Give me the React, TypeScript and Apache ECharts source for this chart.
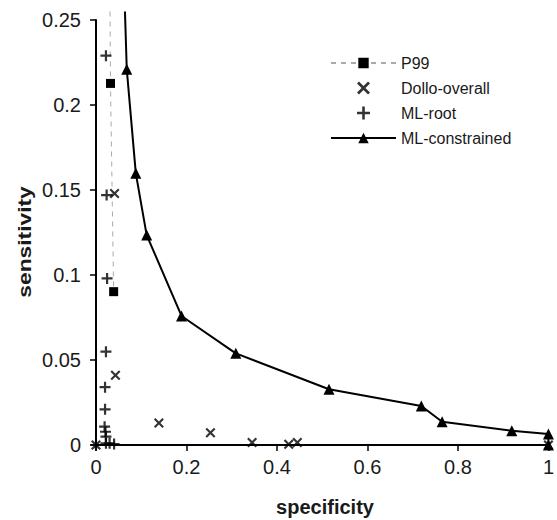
import React, { useEffect, useRef } from "react";
import * as echarts from "echarts";

const FONT = "'Liberation Sans', Arial, sans-serif";

const seriesNames = ["P99", "Dollo-overall", "ML-root", "ML-constrained"];

// [specificity, sensitivity]
const p99Top: [number, number] = [0.031, 0.255];
const p99: [number, number][] = [
  [0.032, 0.2127],
  [0.039, 0.0902],
];

const dollo: [number, number][] = [
  [0, 0],
  [0.041, 0.148],
  [0.043, 0.041],
  [0.139, 0.0129],
  [0.253, 0.0072],
  [0.345, 0.0014],
  [0.426, 0.0004],
  [0.445, 0.0014],
  [1, 0],
];

const mlRoot: [number, number][] = [
  [0, 0],
  [0.022, 0.229],
  [0.0235, 0.147],
  [0.0245, 0.098],
  [0.022, 0.0549],
  [0.02, 0.034],
  [0.02, 0.021],
  [0.019, 0.0108],
  [0.021, 0.0078],
  [0.022, 0.0049],
  [0.022, 0.001],
  [0.03, 0.001],
  [0.04, 0.0006],
];

const mlConstrainedTop: [number, number] = [0.064, 0.255];
const mlConstrained: [number, number][] = [
  [0.068, 0.221],
  [0.088, 0.1598],
  [0.112, 0.1235],
  [0.189, 0.0759],
  [0.309, 0.0539],
  [0.515, 0.0328],
  [0.719, 0.0229],
  [0.765, 0.0137],
  [0.919, 0.0084],
  [1, 0.0065],
  [1, 0],
];

const xTitle = "specificity";
const yTitle = "sensitivity";

const CROSS =
  "path://M1.5,0 L5,3.5 L8.5,0 L10,1.5 L6.5,5 L10,8.5 L8.5,10 L5,6.5 L1.5,10 L0,8.5 L3.5,5 L0,1.5 Z";
const PLUS = "path://M4,0 H6 V4 H10 V6 H6 V10 H4 V6 H0 V4 H4 Z";

export default function App() {
  const ref = useRef<HTMLDivElement>(null);
  useEffect(() => {
    if (!ref.current) return;
    const chart = echarts.init(ref.current, null, { renderer: "svg" });
    chart.setOption({
      animation: false,
      backgroundColor: "#fff",
      textStyle: { fontFamily: FONT },
      grid: { left: 96, right: 4, top: 20, bottom: 75 },
      legend: {
        orient: "vertical",
        left: 330,
        top: 55,
        padding: 0,
        itemWidth: 65,
        itemHeight: 13,
        itemGap: 9,
        data: seriesNames,
        textStyle: { fontSize: 16, color: "#1a1a1a", fontFamily: FONT, lineHeight: 16 },
      },
      xAxis: {
        type: "value",
        min: 0,
        max: 1,
        interval: 0.2,
        splitLine: { show: false },
        axisLine: { show: true, onZero: false, lineStyle: { color: "#000", width: 2 } },
        axisTick: { show: true, length: 6, lineStyle: { color: "#000", width: 1.5 } },
        axisLabel: { fontSize: 20, color: "#1a1a1a", margin: 12, fontFamily: FONT },
      },
      yAxis: {
        type: "value",
        min: 0,
        max: 0.25,
        interval: 0.05,
        splitLine: { show: false },
        axisLine: { show: true, onZero: false, lineStyle: { color: "#000", width: 2 } },
        axisTick: { show: true, length: 6, lineStyle: { color: "#000", width: 1.5 } },
        axisLabel: { fontSize: 20, color: "#1a1a1a", margin: 15, fontFamily: FONT },
      },
      graphic: [
        {
          type: "text",
          x: 24,
          y: 242,
          rotation: Math.PI / 2,
          scaleX: 1.2,
          style: {
            text: yTitle,
            fontSize: 19,
            fontWeight: "bold",
            fontFamily: FONT,
            fill: "#1a1a1a",
            textAlign: "center",
            textVerticalAlign: "middle",
          },
        },
        {
          type: "text",
          x: 325,
          y: 507,
          style: {
            text: xTitle,
            fontSize: 20,
            fontWeight: "bold",
            fontFamily: FONT,
            fill: "#1a1a1a",
            textAlign: "center",
            textVerticalAlign: "middle",
          },
        },
      ],
      series: [
        {
          name: seriesNames[0],
          type: "line",
          clip: false,
          symbol: "rect",
          symbolSize: 9,
          itemStyle: { color: "#000" },
          lineStyle: { color: "#aaa", width: 1, type: [5, 5] },
          data: [{ value: p99Top, symbol: "none" }, ...p99],
          z: 2,
        },
        {
          name: seriesNames[1],
          type: "scatter",
          clip: false,
          symbol: CROSS,
          symbolSize: 10,
          itemStyle: { color: "#000" },
          data: dollo,
          z: 3,
        },
        {
          name: seriesNames[2],
          type: "scatter",
          clip: false,
          symbol: PLUS,
          symbolSize: 11,
          itemStyle: { color: "#000" },
          data: mlRoot,
          z: 3,
        },
        {
          name: seriesNames[3],
          type: "line",
          clip: false,
          symbol: "triangle",
          symbolSize: 11,
          itemStyle: { color: "#000" },
          lineStyle: { color: "#000", width: 2 },
          data: [{ value: mlConstrainedTop, symbol: "none" }, ...mlConstrained],
          z: 4,
        },
      ],
    });
    return () => chart.dispose();
  }, []);
  return (
    <div
      ref={ref}
      style={{ position: "fixed", left: 0, top: 0, width: 557, height: 520 }}
    />
  );
}
